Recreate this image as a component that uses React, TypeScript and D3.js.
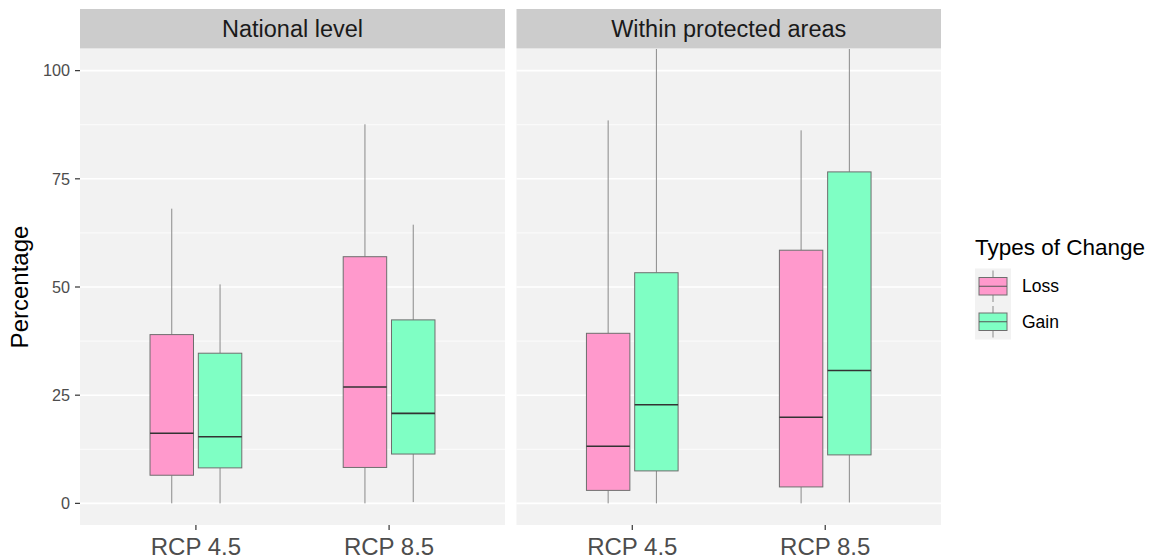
import React from 'react';
import * as d3 from 'd3';

// facets, categories and fill groups
const facets = ['National level', 'Within protected areas'];
const scenarios = ['RCP 4.5', 'RCP 8.5'];
const changeTypes = ['Loss', 'Gain'];
const yTicks = [0, 25, 50, 75, 100];

// box stats, order: RCP4.5 Loss, RCP4.5 Gain, RCP8.5 Loss, RCP8.5 Gain
const nationalLow = [0, 0, 0, 0.3];
const nationalQ1 = [6.5, 8.2, 8.3, 11.4];
const nationalMedian = [16.2, 15.4, 26.9, 20.8];
const nationalQ3 = [39.0, 34.7, 57.0, 42.4];
const nationalHigh = [68.1, 50.6, 87.6, 64.4];

const protectedLow = [0, 0, 0, 0.2];
const protectedQ1 = [3.0, 7.5, 3.8, 11.2];
const protectedMedian = [13.2, 22.8, 19.9, 30.7];
const protectedQ3 = [39.3, 53.3, 58.5, 76.6];
const protectedHigh = [88.5, 112, 86.2, 114];

const fills = { Loss: '#FF99CC', Gain: '#7FFFC4' };

const FONT = '"Liberation Sans", Arial, sans-serif';

const buildRows = (low, q1, med, q3, high) =>
  scenarios.flatMap((s, i) =>
    changeTypes.map((t, j) => {
      const k = i * changeTypes.length + j;
      return { scenario: s, type: t, low: low[k], q1: q1[k], med: med[k], q3: q3[k], high: high[k] };
    })
  );

const panelData = [
  buildRows(nationalLow, nationalQ1, nationalMedian, nationalQ3, nationalHigh),
  buildRows(protectedLow, protectedQ1, protectedMedian, protectedQ3, protectedHigh),
];

const W = 1163;
const H = 559;
const panelTop = 49;
const panelBottom = 525;
const stripTop = 9;
const panels = [
  { x0: 80, x1: 505 },
  { x0: 516.5, x1: 941 },
];

const y = d3.scaleLinear().domain([-5, 105]).range([panelBottom, panelTop]);
const minorTicks = d3.range(12.5, 100, 25);

const Panel = ({ idx }) => {
  const { x0, x1 } = panels[idx];
  const x = d3.scalePoint().domain(scenarios).range([x0, x1]).padding(0.6);
  const step = x.step();
  const dodge = d3.scaleBand().domain(changeTypes).range([-step / 4, step / 4]);
  const boxW = dodge.bandwidth() * 0.9;
  const clipId = `clip-${idx}`;
  return (
    <g>
      <defs>
        <clipPath id={clipId}>
          <rect x={x0} y={panelTop} width={x1 - x0} height={panelBottom - panelTop} />
        </clipPath>
      </defs>
      {/* strip */}
      <rect x={x0} y={stripTop} width={x1 - x0} height={panelTop - stripTop - 0.5} fill="#CCCCCC" />
      <text x={(x0 + x1) / 2} y={37.3} textAnchor="middle" fontSize={23.5} fill="#1A1A1A" fontFamily={FONT}>
        {facets[idx]}
      </text>
      {/* panel bg + grid */}
      <rect x={x0} y={panelTop} width={x1 - x0} height={panelBottom - panelTop} fill="#F2F2F2" />
      {minorTicks.map((t) => (
        <line key={'m' + t} x1={x0} x2={x1} y1={y(t)} y2={y(t)} stroke="#FFFFFF" strokeWidth={0.8} />
      ))}
      {yTicks.map((t) => (
        <line key={'M' + t} x1={x0} x2={x1} y1={y(t)} y2={y(t)} stroke="#FFFFFF" strokeWidth={1.6} />
      ))}
      {/* boxes */}
      <g clipPath={`url(#${clipId})`}>
        {panelData[idx].map((d) => {
          const cx = x(d.scenario) + dodge(d.type) + dodge.bandwidth() / 2;
          return (
            <g key={d.scenario + d.type}>
              <line x1={cx} x2={cx} y1={y(d.q3)} y2={y(d.high)} stroke="#8A8A8A" strokeWidth={1} />
              <line x1={cx} x2={cx} y1={y(d.q1)} y2={y(d.low)} stroke="#8A8A8A" strokeWidth={1} />
              <rect
                x={cx - boxW / 2}
                y={y(d.q3)}
                width={boxW}
                height={y(d.q1) - y(d.q3)}
                fill={fills[d.type]}
                stroke="#6E6E6E"
                strokeWidth={1}
              />
              <line x1={cx - boxW / 2} x2={cx + boxW / 2} y1={y(d.med)} y2={y(d.med)} stroke="#333333" strokeWidth={1.6} />
            </g>
          );
        })}
      </g>
      {/* x axis */}
      {scenarios.map((s) => (
        <g key={s}>
          <line x1={x(s)} x2={x(s)} y1={panelBottom} y2={panelBottom + 5} stroke="#333333" strokeWidth={1.2} />
          <text x={x(s)} y={555} textAnchor="middle" fontSize={24} fill="#4D4D4D" fontFamily={FONT}>
            {s}
          </text>
        </g>
      ))}
    </g>
  );
};

const Legend = () => {
  const lx = 975;
  const ly = 268.5;
  const keyH = 35.5;
  const keyW = 36;
  return (
    <g fontFamily={FONT}>
      <text x={lx} y={255} fontSize={22.5} fill="#000000">
        Types of Change
      </text>
      {changeTypes.map((t, i) => {
        const top = ly + i * keyH;
        const cx = lx + keyW / 2;
        return (
          <g key={t}>
            <rect x={lx} y={top} width={keyW} height={keyH} fill="#F2F2F2" />
            <line x1={cx} x2={cx} y1={top + 2} y2={top + keyH - 2} stroke="#8A8A8A" strokeWidth={1} />
            <rect x={lx + 4} y={top + 9} width={keyW - 8} height={keyH - 18} fill={fills[t]} stroke="#6E6E6E" strokeWidth={1} />
            <line x1={lx + 4} x2={lx + keyW - 4} y1={top + keyH / 2} y2={top + keyH / 2} stroke="#555555" strokeWidth={1} />
            <text x={1022} y={top + keyH / 2 + 6.2} fontSize={17.5} fill="#000000">
              {t}
            </text>
          </g>
        );
      })}
    </g>
  );
};

export default function App() {
  return (
    <svg
      width={W}
      height={H}
      style={{ position: 'absolute', left: 0, top: 0, display: 'block', background: '#FFFFFF' }}
    >
      <rect width={W} height={H} fill="#FFFFFF" />
      {/* y axis */}
      {yTicks.map((t) => (
        <g key={t}>
          <line x1={75} x2={80} y1={y(t)} y2={y(t)} stroke="#333333" strokeWidth={1.2} />
          <text x={70} y={y(t)} dy="0.36em" textAnchor="end" fontSize={16.2} fill="#4D4D4D" fontFamily={FONT}>
            {t}
          </text>
        </g>
      ))}
      <text
        transform={`translate(27.5, ${(panelTop + panelBottom) / 2}) rotate(-90)`}
        textAnchor="middle"
        fontSize={24}
        fill="#000000"
        fontFamily={FONT}
      >
        Percentage
      </text>
      {facets.map((f, i) => (
        <Panel key={f} idx={i} />
      ))}
      <Legend />
    </svg>
  );
}
